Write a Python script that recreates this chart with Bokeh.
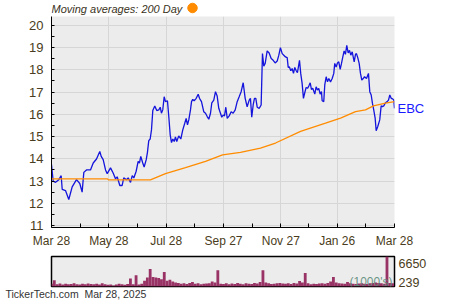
import pandas as pd
from bokeh.plotting import figure
from bokeh.layouts import column
from bokeh.models import FixedTicker, Range1d, Label, LinearAxis, Title
from bokeh.core.properties import value
from bokeh.embed import file_html
from bokeh.resources import INLINE

# ---------------- data ----------------
start_date = "2024-03-28"
tick_dates = ["2024-03-28", "2024-05-28", "2024-07-28", "2024-09-27",
              "2024-11-27", "2025-01-26", "2025-03-28"]
tick_labels = ["Mar 28", "May 28", "Jul 28", "Sep 27", "Nov 27", "Jan 26", "Mar 28"]
price_ticks = [11, 12, 13, 14, 15, 16, 17, 18, 19, 20]

# days since start_date, closing price (EBC)
price_day = [0, 1.8, 4.3, 7.8, 10.3, 11.4, 14.9, 18.4, 22.0, 26.6,
             30.1, 32.6, 34.4, 37.2, 41.5, 44.4, 47.9, 51.4, 52.9, 55.0,
             57.5, 59.3, 62.8, 65.6, 68.1, 69.9, 72.7, 75.2, 76.9, 79.8,
             81.6, 84.1, 85.9, 87.6, 90.1, 92.2, 93.6, 95.0, 97.1, 98.6,
             100.8, 102.1, 103.5, 105.0, 106.4, 107.8, 109.9, 112.0, 114.2, 115.7,
             117.0, 118.4, 119.9, 121.3, 123.4, 124.8, 126.3, 127.7, 129.1, 130.6,
             131.9, 133.3, 135.4, 137.6, 139.7, 141.8, 143.3, 144.7, 146.1, 147.9,
             149.0, 150.3, 151.8, 154.0, 156.1, 157.5, 159.6, 162.0, 163.9, 165.7,
             167.4, 169.2, 170.6, 172.7, 174.5, 176.3, 178.0, 179.8, 181.2, 182.7,
             184.1, 185.5, 187.0, 189.1, 191.2, 193.3, 195.5, 197.6, 199.7, 201.8,
             204.0, 206.1, 208.2, 210.4, 211.7, 213.1, 214.6, 216.0, 217.4, 218.9,
             221.0, 223.1, 224.5, 225.9, 227.4, 229.5, 231.6, 233.8, 235.9, 238.0,
             240.2, 241.9, 243.6, 245.5, 247.2, 249.0, 250.8, 251.9, 253.2, 254.6,
             256.1, 257.5, 258.9, 260.4, 261.7, 263.9, 265.2, 266.7, 268.1, 269.5,
             271.0, 272.4, 273.8, 275.3, 276.6, 278.0, 280.2, 281.6, 283.0, 284.4,
             285.9, 287.3, 288.0, 289.7, 290.8, 292.3, 293.7, 295.1, 296.9, 298.7,
             300.4, 301.4, 302.9, 304.3, 305.7, 307.2, 308.6, 310.0, 311.4, 312.8,
             314.2, 315.7, 317.1, 318.5, 320.0, 322.1, 323.5, 324.5, 325.9, 327.4,
             328.8, 330.2, 331.7, 333.1, 335.2, 337.3, 338.7, 340.2, 341.5, 342.9,
             344.4, 345.5, 347.2, 349.3, 350.8, 352.2, 353.6, 355.4, 357.2, 358.6,
             360.0, 361.5, 362.8, 364.2, 365.0]
price = [13.74, 12.99, 12.94, 13.06, 13.24, 12.62, 12.57, 12.17, 12.74, 13.06,
         12.89, 12.50, 13.39, 13.50, 13.50, 13.81, 13.99, 14.33, 14.11, 13.96,
         13.50, 13.33, 13.59, 13.36, 13.10, 13.19, 12.80, 12.80, 13.14, 13.06,
         13.14, 12.94, 13.24, 13.14, 13.44, 13.88, 13.81, 14.11, 13.81, 13.63,
         13.96, 14.29, 14.82, 14.89, 15.30, 16.17, 16.38, 16.17, 16.20, 16.32,
         16.05, 16.20, 16.79, 16.57, 16.61, 15.90, 15.08, 14.73, 14.89, 14.78,
         14.98, 14.78, 15.03, 14.89, 15.30, 15.60, 15.82, 15.53, 15.75, 16.20,
         16.57, 16.67, 16.61, 16.72, 16.90, 16.72, 16.57, 16.12, 16.05, 15.90,
         15.78, 16.05, 16.52, 16.64, 17.02, 16.82, 16.27, 16.05, 15.87, 15.97,
         15.93, 16.32, 15.82, 15.93, 16.12, 16.05, 16.20, 16.57, 16.79, 17.02,
         17.42, 16.72, 16.34, 16.64, 16.72, 15.87, 16.42, 16.72, 16.72, 16.32,
         16.27, 16.42, 18.73, 18.17, 18.29, 18.85, 18.76, 18.51, 18.43, 18.31,
         18.40, 18.66, 19.00, 18.73, 18.66, 18.58, 18.55, 18.11, 18.13, 17.96,
         18.06, 17.84, 18.11, 17.96, 17.87, 18.43, 17.84, 17.39, 16.72, 16.97,
         17.21, 17.17, 17.27, 17.42, 17.12, 17.17, 16.91, 17.24, 17.09, 17.17,
         16.91, 17.02, 16.61, 16.57, 17.32, 17.69, 17.46, 17.61, 17.46, 17.61,
         17.84, 18.29, 18.13, 18.31, 18.36, 18.02, 18.29, 18.58, 18.85, 18.70,
         19.10, 18.76, 18.88, 18.66, 18.81, 18.36, 18.70, 18.73, 18.55, 18.29,
         17.84, 17.54, 17.61, 17.69, 17.61, 17.84, 17.02, 16.87, 16.50, 16.20,
         15.83, 15.26, 15.45, 15.75, 16.38, 16.35, 16.38, 16.52, 16.57, 16.64,
         16.87, 16.72, 16.70, 16.65, 16.27]

# 200-day moving average
ma_day = [0, 59.6, 60.6, 105.3, 121.3, 142.6, 163.9, 182.0, 201.1, 222.4,
          238.4, 265.0, 291.6, 307.6, 323.5, 334.1, 342.6, 355.4, 365.0]
ma_200 = [13.10, 13.10, 13.05, 13.05, 13.33, 13.60, 13.88, 14.18, 14.29, 14.48,
          14.71, 15.23, 15.60, 15.83, 16.12, 16.20, 16.38, 16.50, 16.57]

# volume (thousands), one bar every 3 days
vol_day = list(range(0, 366, 3))
volume = [600, 1400, 500, 650, 450, 600, 500, 550, 700, 500,
          450, 600, 500, 650, 550, 500, 600, 450, 700, 500,
          400, 450, 239, 450, 600, 500, 400, 550, 1800, 500,
          2500, 450, 600, 1300, 2000, 3900, 2100, 2000, 1900, 1600,
          3200, 1300, 1500, 1100, 900, 800, 600, 700, 550, 800,
          1000, 600, 700, 500, 600, 650, 700, 1100, 900, 3600,
          600, 550, 700, 500, 650, 550, 800, 600, 500, 700,
          600, 550, 800, 650, 1000, 3600, 900, 700, 550, 600,
          700, 800, 650, 600, 700, 550, 800, 650, 1200, 900,
          3000, 700, 500, 600, 550, 650, 700, 600, 800, 1100,
          2100, 900, 700, 650, 600, 1000, 700, 600, 550, 650,
          700, 600, 550, 700, 800, 900, 750, 700, 600, 6650,
          800, 700]

ticker_symbol = "EBC"
title_text = "Moving averages: 200 Day"
footer_text = "TickerTech.com\u00a0\u00a0Mar 28, 2025"
vol_unit_text = "(1000's)"

# ---------------- layout constants ----------------
FONT = "Liberation Sans"
AXIS_TXT = "#4a3c20"
W = 450
BL, BR = 51, 56
FRAME_W = W - BL - BR
Y0, Y1 = 10.91, 20.40
HEAD_H, MAIN_H, VOL_FIG_H = 16, 234, 50
VOL_H = 30

start = pd.Timestamp(start_date)
tick_days = [(pd.Timestamp(d) - start).days for d in tick_dates]
minor_days = [(a + b) / 2 for a, b in zip(tick_days[:-1], tick_days[1:])]
X0, X1 = tick_days[0], tick_days[-1]
xpp = (X1 - X0) / FRAME_W

# ---------------- header (title + marker) ----------------
x_shared = Range1d(X0, X1)
h = figure(width=W, height=HEAD_H, x_range=x_shared, y_range=Range1d(HEAD_H, 0),
           output_backend="svg", toolbar_location=None, title=None,
           x_axis_location=None, y_axis_location=None,
           min_border_left=BL, min_border_right=BR, min_border_top=0, min_border_bottom=0)
h.background_fill_color = "white"
h.border_fill_color = "white"
h.outline_line_color = None
h.grid.visible = False
h.text(x=[X0], y=[8.5], text=[title_text], text_baseline="middle", text_align="left",
       text_font=value(FONT), text_font_size="11px", text_font_style="italic",
       text_color="#3a3322")
h.scatter(x=[X0 + 141 * xpp], y=[7.5], size=9.5, marker="circle",
          fill_color="#ff8c00", line_color="#ff8c00")

# ---------------- price panel ----------------
p = figure(width=W, height=MAIN_H, x_range=x_shared, y_range=Range1d(Y0, Y1),
           output_backend="svg", toolbar_location=None, title=None,
           min_border_left=BL, min_border_right=BR, min_border_top=0, min_border_bottom=23)
p.background_fill_color = "#ececec"
p.border_fill_color = "white"
p.outline_line_color = None

xt = FixedTicker(ticks=tick_days, minor_ticks=minor_days)
yt = FixedTicker(ticks=price_ticks, minor_ticks=[v + 0.5 for v in price_ticks[:-1]])
p.xaxis.ticker = xt
p.yaxis.ticker = yt
p.xgrid.ticker = xt
p.ygrid.ticker = yt
p.xaxis.major_label_overrides = {d: s for d, s in zip(tick_days, tick_labels)}
for ax in (p.xaxis[0], p.yaxis[0]):
    ax.axis_line_color = "black"
    ax.axis_line_width = 1
    ax.major_tick_line_color = "black"
    ax.minor_tick_line_color = "black"
    ax.major_tick_out = 0
    ax.minor_tick_out = 0
    ax.major_label_text_font = FONT
    ax.major_label_text_color = AXIS_TXT
p.xaxis.major_tick_in = 4
p.xaxis.minor_tick_in = 4
p.yaxis.major_tick_in = 3
p.yaxis.minor_tick_in = 3
p.xaxis.major_label_text_font_size = "12px"
p.yaxis.major_label_text_font_size = "13px"
p.xaxis.major_label_standoff = 6
p.yaxis.major_label_standoff = 8
p.grid.grid_line_color = "#d6d6d6"
p.grid.grid_line_width = 1

p.line(price_day, price, line_color="#1414dc", line_width=1.3)
p.line(ma_day, ma_200, line_color="#ff8c00", line_width=1.3)

# symbol label at the last close, as a right-side axis
sym_axis = LinearAxis(ticker=FixedTicker(ticks=[price[-1]]),
                      major_label_overrides={price[-1]: ticker_symbol})
sym_axis.axis_line_color = None
sym_axis.major_tick_line_color = None
sym_axis.minor_tick_line_color = None
sym_axis.major_tick_out = 0
sym_axis.major_label_standoff = 3
sym_axis.major_label_text_font = FONT
sym_axis.major_label_text_font_size = "13px"
sym_axis.major_label_text_color = "#1a1aff"
p.add_layout(sym_axis, "right")

# ---------------- volume panel ----------------
vmax, vmin = max(volume), min(volume)
v = figure(width=W, height=VOL_FIG_H, x_range=x_shared, y_range=Range1d(0, vmax),
           output_backend="svg", toolbar_location=None, title=None,
           x_axis_location=None, y_axis_location=None,
           min_border_left=BL, min_border_right=BR, min_border_top=6, min_border_bottom=0)
v.background_fill_color = "#ececec"
v.border_fill_color = "white"
v.outline_line_color = "black"
v.outline_line_width = 1.5
v.grid.visible = False
v.vbar(x=vol_day, top=volume, width=3, fill_color="#993366", line_color=None)

# max / min volume labels: an extra scale placing them 7 px below the top
# and 4 px above the bottom of the panel
per_px = (vmax - vmin) / (VOL_H - 7 - 4)
v.extra_y_ranges = {"lab": Range1d(vmin - 4 * per_px, vmin - 4 * per_px + VOL_H * per_px)}
vol_axis = LinearAxis(y_range_name="lab", ticker=FixedTicker(ticks=[vmax, vmin]))
vol_axis.axis_line_color = None
vol_axis.major_tick_line_color = None
vol_axis.minor_tick_line_color = None
vol_axis.major_tick_out = 0
vol_axis.major_label_standoff = 4
vol_axis.major_label_text_font = FONT
vol_axis.major_label_text_font_size = "12.5px"
vol_axis.major_label_text_color = AXIS_TXT
v.add_layout(vol_axis, "right")

v.add_layout(Label(x=X1 - 2 * xpp, y=5 * vmax / VOL_H, text=vol_unit_text, text_align="right",
                   text_baseline="middle", text_color="#5a8a78", text_font=FONT,
                   text_font_size="12px", text_alpha=0.9))

# footer as a title below the volume panel, shifted to the left page edge
v.add_layout(Title(text=footer_text, align="left", offset=5 - BL, standoff=0,
                   vertical_align="middle", text_font=FONT, text_font_size="10.5px",
                   text_font_style="normal", text_color="#333333"), "below")

layout = column(h, p, v, spacing=0)
open("out.html", "w").write(file_html(layout, INLINE))
